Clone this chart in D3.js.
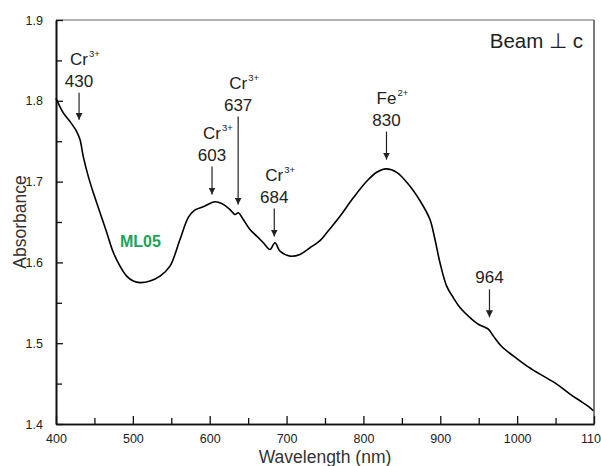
<!DOCTYPE html>
<html><head><meta charset="utf-8">
<script src="https://cdn.jsdelivr.net/npm/d3@7"></script>
<style>
body{margin:0;background:#fff;}
text{font-family:"Liberation Sans",Arial,Helvetica,sans-serif;}
</style></head>
<body><svg id="c" width="601" height="466"></svg>
<script>
// Spectrum (wavelength nm, absorbance)
const wavelength = [400,409.5,418.2,426.9,431.2,435.5,442,448.5,457.2,466,474.6,483.3,492,500.6,509.3,522.3,535.3,548.3,561.3,572,580,591.6,606.9,615.6,626.4,632.9,637.2,643.7,652.4,661.2,669.7,678.4,684.9,691.4,704.5,717.5,730.5,743.5,752.2,769.5,786.8,804.3,817.3,829.4,843.3,860.6,877.9,886.6,893.1,899.6,908.3,916.9,925.6,938.6,949.5,956,962.5,969,979.9,995,1012.4,1029.7,1051.5,1068.8,1081.7,1092.6,1099.1];
const absorbance = [1.803,1.785,1.7744,1.762,1.752,1.731,1.7065,1.6864,1.6617,1.637,1.6123,1.5954,1.583,1.5769,1.575,1.5769,1.583,1.5954,1.6284,1.6555,1.6645,1.6688,1.675,1.6728,1.6654,1.6593,1.6614,1.653,1.6407,1.6325,1.6243,1.616,1.6243,1.614,1.6078,1.6099,1.6181,1.627,1.6367,1.6572,1.6799,1.7004,1.7115,1.7157,1.7115,1.6942,1.6695,1.653,1.6284,1.5996,1.5707,1.5564,1.5441,1.5317,1.5235,1.5206,1.5173,1.509,1.4959,1.4843,1.472,1.4617,1.4494,1.437,1.4288,1.4218,1.4164];

const xTicks = [400,500,600,700,800,900,1000,1100];
const xMinor = [450,550,650,750,850,950,1050];
const yTicks = [1.4,1.5,1.6,1.7,1.8,1.9];
const yMinor = [1.45,1.55,1.65,1.75,1.85];

// Band annotations
const bandNm    = [430, 603, 637, 684, 830, 964];
const bandIon   = ["Cr","Cr","Cr","Cr","Fe",""];
const bandCharge= ["3+","3+","3+","3+","2+",""];
const bandTip   = [1.7765,1.684,1.6716,1.632,1.7272,1.532];
const bandLen   = [27,28,88,28,28,28];

const svg = d3.select("#c");
const L=56, R=594, T=20, B=424;
const x = d3.scaleLinear().domain([400,1100]).range([L,R]);
const y = d3.scaleLinear().domain([1.4,1.9]).range([B,T]);

// frame
svg.append("line").attr("x1",L).attr("x2",R).attr("y1",T).attr("y2",T).attr("stroke","#666").attr("stroke-width",1);
svg.append("line").attr("x1",R).attr("x2",R).attr("y1",T).attr("y2",B).attr("stroke","#222").attr("stroke-width",1.2);

// axes
const fmt = d3.format(".1f");
const yAx = svg.append("g").attr("transform",`translate(${L},0)`)
  .call(d3.axisLeft(y).tickValues(yTicks).tickFormat(fmt).tickSizeInner(-7).tickSizeOuter(0).tickPadding(13));
const yAxm = svg.append("g").attr("transform",`translate(${L},0)`)
  .call(d3.axisLeft(y).tickValues(yMinor).tickFormat("").tickSizeInner(-6).tickSizeOuter(0));
const xAx = svg.append("g").attr("transform",`translate(0,${B})`)
  .call(d3.axisBottom(x).tickValues(xTicks).tickFormat(d3.format("d")).tickSizeInner(-8).tickSizeOuter(0).tickPadding(10));
const xAxm = svg.append("g").attr("transform",`translate(0,${B})`)
  .call(d3.axisBottom(x).tickValues(xMinor).tickFormat("").tickSizeInner(-6).tickSizeOuter(0));
[yAx,yAxm,xAx,xAxm].forEach(g=>{
  g.select(".domain").attr("stroke","#111").attr("stroke-width",1.6);
  g.selectAll(".tick line").attr("stroke","#111").attr("stroke-width",1.3);
  g.selectAll("text").attr("font-size",12.5).attr("fill","#222").style("font-family","'Liberation Sans',Arial,sans-serif");
});

// axis titles
svg.append("text").attr("x",(L+R)/2).attr("y",463).attr("text-anchor","middle")
  .attr("font-size",17.5).attr("fill","#333").text("Wavelength (nm)");
svg.append("text").attr("transform",`translate(26,${(T+B)/2}) rotate(-90)`).attr("text-anchor","middle")
  .attr("font-size",17.5).attr("fill","#333").text("Absorbance");

// curve
const pts = wavelength.map((w,i)=>[w,absorbance[i]]);
svg.append("path").datum(pts)
  .attr("d", d3.line().x(d=>x(d[0])).y(d=>y(d[1])).curve(d3.curveCatmullRom.alpha(0.5)))
  .attr("fill","none").attr("stroke","#000").attr("stroke-width",1.6);

// arrow marker
svg.append("defs").append("marker").attr("id","ah").attr("viewBox","0 0 10 10")
  .attr("refX",10).attr("refY",5).attr("markerWidth",7).attr("markerHeight",7)
  .attr("markerUnits","userSpaceOnUse").attr("orient","auto")
  .append("path").attr("d","M0,0 L10,5 L0,10 z").attr("fill","#222");

bandNm.forEach((nm,i)=>{
  const ax = x(nm), tip = y(bandTip[i]), top = tip - bandLen[i];
  svg.append("line").attr("x1",ax).attr("x2",ax).attr("y1",top).attr("y2",tip)
    .attr("stroke","#222").attr("stroke-width",1.2).attr("marker-end","url(#ah)");
  svg.append("text").attr("x",ax).attr("y",top-6).attr("text-anchor","middle")
    .attr("font-size",17).attr("fill","#222").text(nm);
  if (bandIon[i]) {
    const by = top-28;
    const t = svg.append("text").attr("x",ax).attr("y",by).attr("text-anchor","middle")
      .attr("font-size",17).attr("fill","#222").text(bandIon[i]);
    const w = t.node().getComputedTextLength();
    svg.append("text").attr("x",ax+w/2+1).attr("y",by-8).attr("font-size",9.5).attr("fill","#222").text(bandCharge[i]);
  }
});

// sample label
svg.append("text").attr("x",120).attr("y",247).attr("font-size",16).attr("font-weight","bold")
  .attr("fill","#1ba35a").text("ML05");

// beam label
svg.append("text").attr("x",583).attr("y",48).attr("text-anchor","end")
  .attr("font-size",20.5).attr("fill","#222").text("Beam \u22A5 c");
</script></body></html>
